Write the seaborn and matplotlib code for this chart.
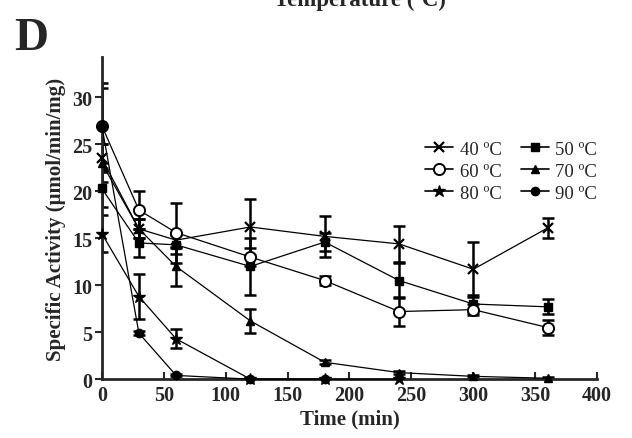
import numpy as np
import pandas as pd
import matplotlib
matplotlib.use("Agg")
import matplotlib.pyplot as plt
import seaborn as sns
from matplotlib.lines import Line2D

# time points (min)
times = [0, 30, 60, 120, 180, 240, 300, 360]

# specific activity per temperature
act_40 = [23.5, 16.0, 14.8, 16.2, 15.2, 14.4, 11.7, 16.1]
err_40 = [1.5, 1.0, 0.8, 3.0, 2.2, 1.9, 2.9, 1.1]
act_50 = [20.3, 14.5, 14.3, 12.0, 14.6, 10.5, 8.0, 7.7]
err_50 = [2.0, 1.5, 1.0, 3.0, 1.0, 1.9, 1.0, 0.8]
act_60 = [27.0, 18.0, 15.6, 13.0, 10.5, 7.2, 7.4, 5.5]
err_60 = [4.0, 2.0, 3.2, 1.0, 0.5, 1.5, 0.6, 0.8]
act_70 = [23.0, 16.0, 12.0, 6.2, 1.8, 0.7, 0.3, 0.1]
err_70 = [2.0, 1.0, 2.1, 1.3, 0.2, 0.2, 0.1, 0.1]
act_80 = [15.5, 8.8, 4.3, 0.0, 0.0, 0.0]
err_80 = [2.0, 2.4, 1.0, 0.0, 0.0, 0.0]
act_90 = [27.0, 4.9, 0.4, 0.0, 0.0]
err_90 = [4.5, 0.2, 0.1, 0.0, 0.0]

labels = ['40 \u00baC', '50 \u00baC', '60 \u00baC', '70 \u00baC', '80 \u00baC', '90 \u00baC']

sns.set_style("ticks")
plt.rcParams['font.family'] = ['Liberation Serif', 'DejaVu Serif']

fig = plt.figure(figsize=(6.32, 4.39), dpi=100)
ax = fig.add_axes([0.161, 0.134, 0.784, 0.734])

series = [
    (act_40, err_40, 'x', 'black', 7, 1.6),
    (act_50, err_50, 's', 'black', 6, 1),
    (act_60, err_60, 'o', 'white', 8, 1.4),
    (act_70, err_70, '^', 'black', 6, 1),
    (act_80, err_80, '*', 'black', 9, 1),
    (act_90, err_90, 'o', 'black', 6, 1),
]

handles = []
for (vals, errs, mk, fc, ms, mew), lab in zip(series, labels):
    t = times[:len(vals)]
    df = pd.DataFrame({'time': t, 'activity': vals})
    ax.errorbar(t, vals, yerr=errs, fmt='none', ecolor='black',
                elinewidth=1.8, capsize=4.5, capthick=1.8, zorder=2)
    sns.lineplot(data=df, x='time', y='activity', ax=ax, color='black',
                 linewidth=0.9, marker=mk, markersize=ms,
                 markerfacecolor=fc, markeredgecolor='black',
                 markeredgewidth=mew, zorder=3, clip_on=False)
    handles.append(Line2D([0], [0], color='black', linewidth=1.2, marker=mk,
                          markersize=ms, markerfacecolor=fc,
                          markeredgecolor='black', markeredgewidth=mew))

ax.set_xlim(0, 400)
ax.set_ylim(0, 34.3)
ax.set_xticks(range(0, 401, 50))
ax.set_yticks(range(0, 31, 5))
ax.tick_params(axis='x', direction='in', length=5, width=1.5, pad=4)
ax.tick_params(axis='y', direction='out', length=5, width=1.5, pad=2)
for lab in ax.get_xticklabels() + ax.get_yticklabels():
    lab.set_fontsize(14.5)
    lab.set_fontweight('bold')
ax.spines['top'].set_visible(False)
ax.spines['right'].set_visible(False)
ax.spines['left'].set_linewidth(2)
ax.spines['bottom'].set_linewidth(2)

ax.set_xlabel('Time (min)', fontsize=15, fontweight='bold', labelpad=3)
ax.set_ylabel('Specific Activity (\u03bcmol/min/mg)', fontsize=15,
              fontweight='bold', labelpad=4)

# legend in row order: 40 50 / 60 70 / 80 90
order = [0, 2, 4, 1, 3, 5]
ax.legend([handles[i] for i in order], [labels[i] for i in order], ncol=2,
          frameon=False, fontsize=13.5, loc='upper right',
          bbox_to_anchor=(1.0, 0.74), borderaxespad=0, borderpad=0,
          handlelength=1.5, columnspacing=1.0,
          labelspacing=0.26, handletextpad=0.35)

fig.text(0.022, 0.96, 'D', fontsize=34, fontweight='bold', va='top')
fig.text(0.57, 1.0, 'Temperature (\u00baC)', fontsize=16.5, fontweight='bold',
         ha='center', va='center')

fig.savefig('out.png', dpi=100)
